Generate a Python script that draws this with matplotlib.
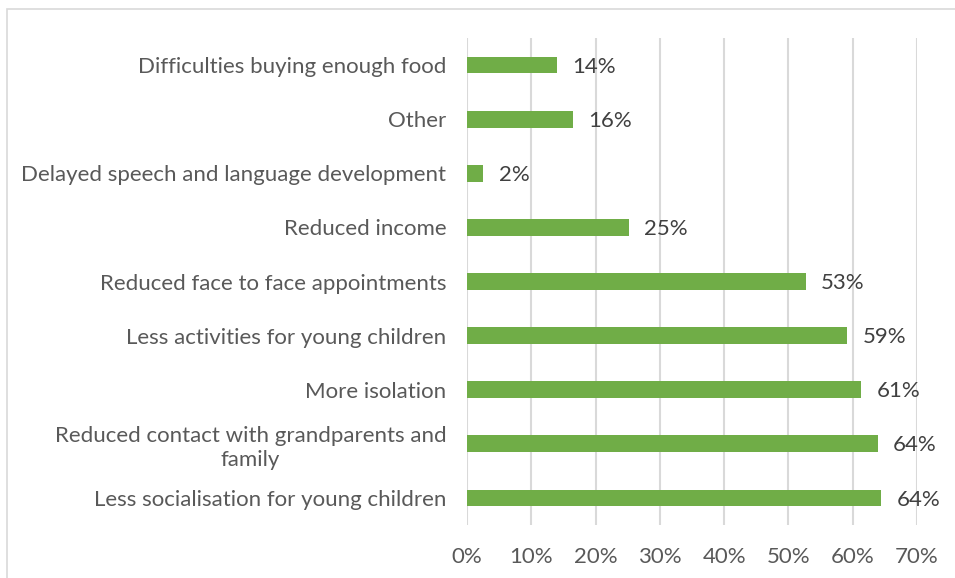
import matplotlib
matplotlib.use('Agg')
import matplotlib.pyplot as plt
from matplotlib.patches import Rectangle

# данные (снизу вверх, как в Excel)
categories = [
    'Less socialisation for young children',
    'Reduced contact with grandparents and\nfamily',
    'More isolation',
    'Less activities for young children',
    'Reduced face to face appointments',
    'Reduced income',
    'Delayed speech and language development',
    'Other',
    'Difficulties buying enough food',
]
values = [64.4, 63.9, 61.3, 59.1, 52.7, 25.2, 2.5, 16.5, 14.0]
labels = ['64%', '64%', '61%', '59%', '53%', '25%', '2%', '16%', '14%']
xticks = [0, 10, 20, 30, 40, 50, 60, 70]

plt.rcParams['font.family'] = ['Lato', 'DejaVu Sans']

fig = plt.figure(figsize=(9.55, 5.78), dpi=100)
fig.patches.append(Rectangle((7 / 955, -0.05), 1.1, 1 - 9 / 578 + 0.05,
                             transform=fig.transFigure, fill=False,
                             edgecolor='#D9D9D9', linewidth=1.2))
ax = fig.add_axes([467 / 955, 1 - 525 / 578, 450 / 955, 487 / 578])

y = range(len(categories))
ax.barh(y, values, height=0.31, color='#70AD47', zorder=3)
for yi, v, lab in zip(y, values, labels):
    ax.text(v + 2.4, yi - 0.03, lab, va='center', ha='left', fontsize=16, color='#404040')

ax.set_xlim(0, 70)
ax.set_ylim(-0.5, len(categories) - 0.5)
ax.set_xticks(xticks)
ax.set_xticklabels([f'{t}%' for t in xticks], fontsize=16, color='#595959')
ax.set_yticks(list(y))
ax.set_yticklabels(categories, fontsize=16, color='#595959',
                   multialignment='center', linespacing=1.25)
ax.tick_params(axis='both', length=0)
ax.tick_params(axis='x', pad=16)
ax.tick_params(axis='y', pad=15)
ax.grid(axis='x', color='#D9D9D9', linewidth=1.5, zorder=0)
for s in ax.spines.values():
    s.set_visible(False)

plt.savefig('out.png', dpi=100)
plt.close()
